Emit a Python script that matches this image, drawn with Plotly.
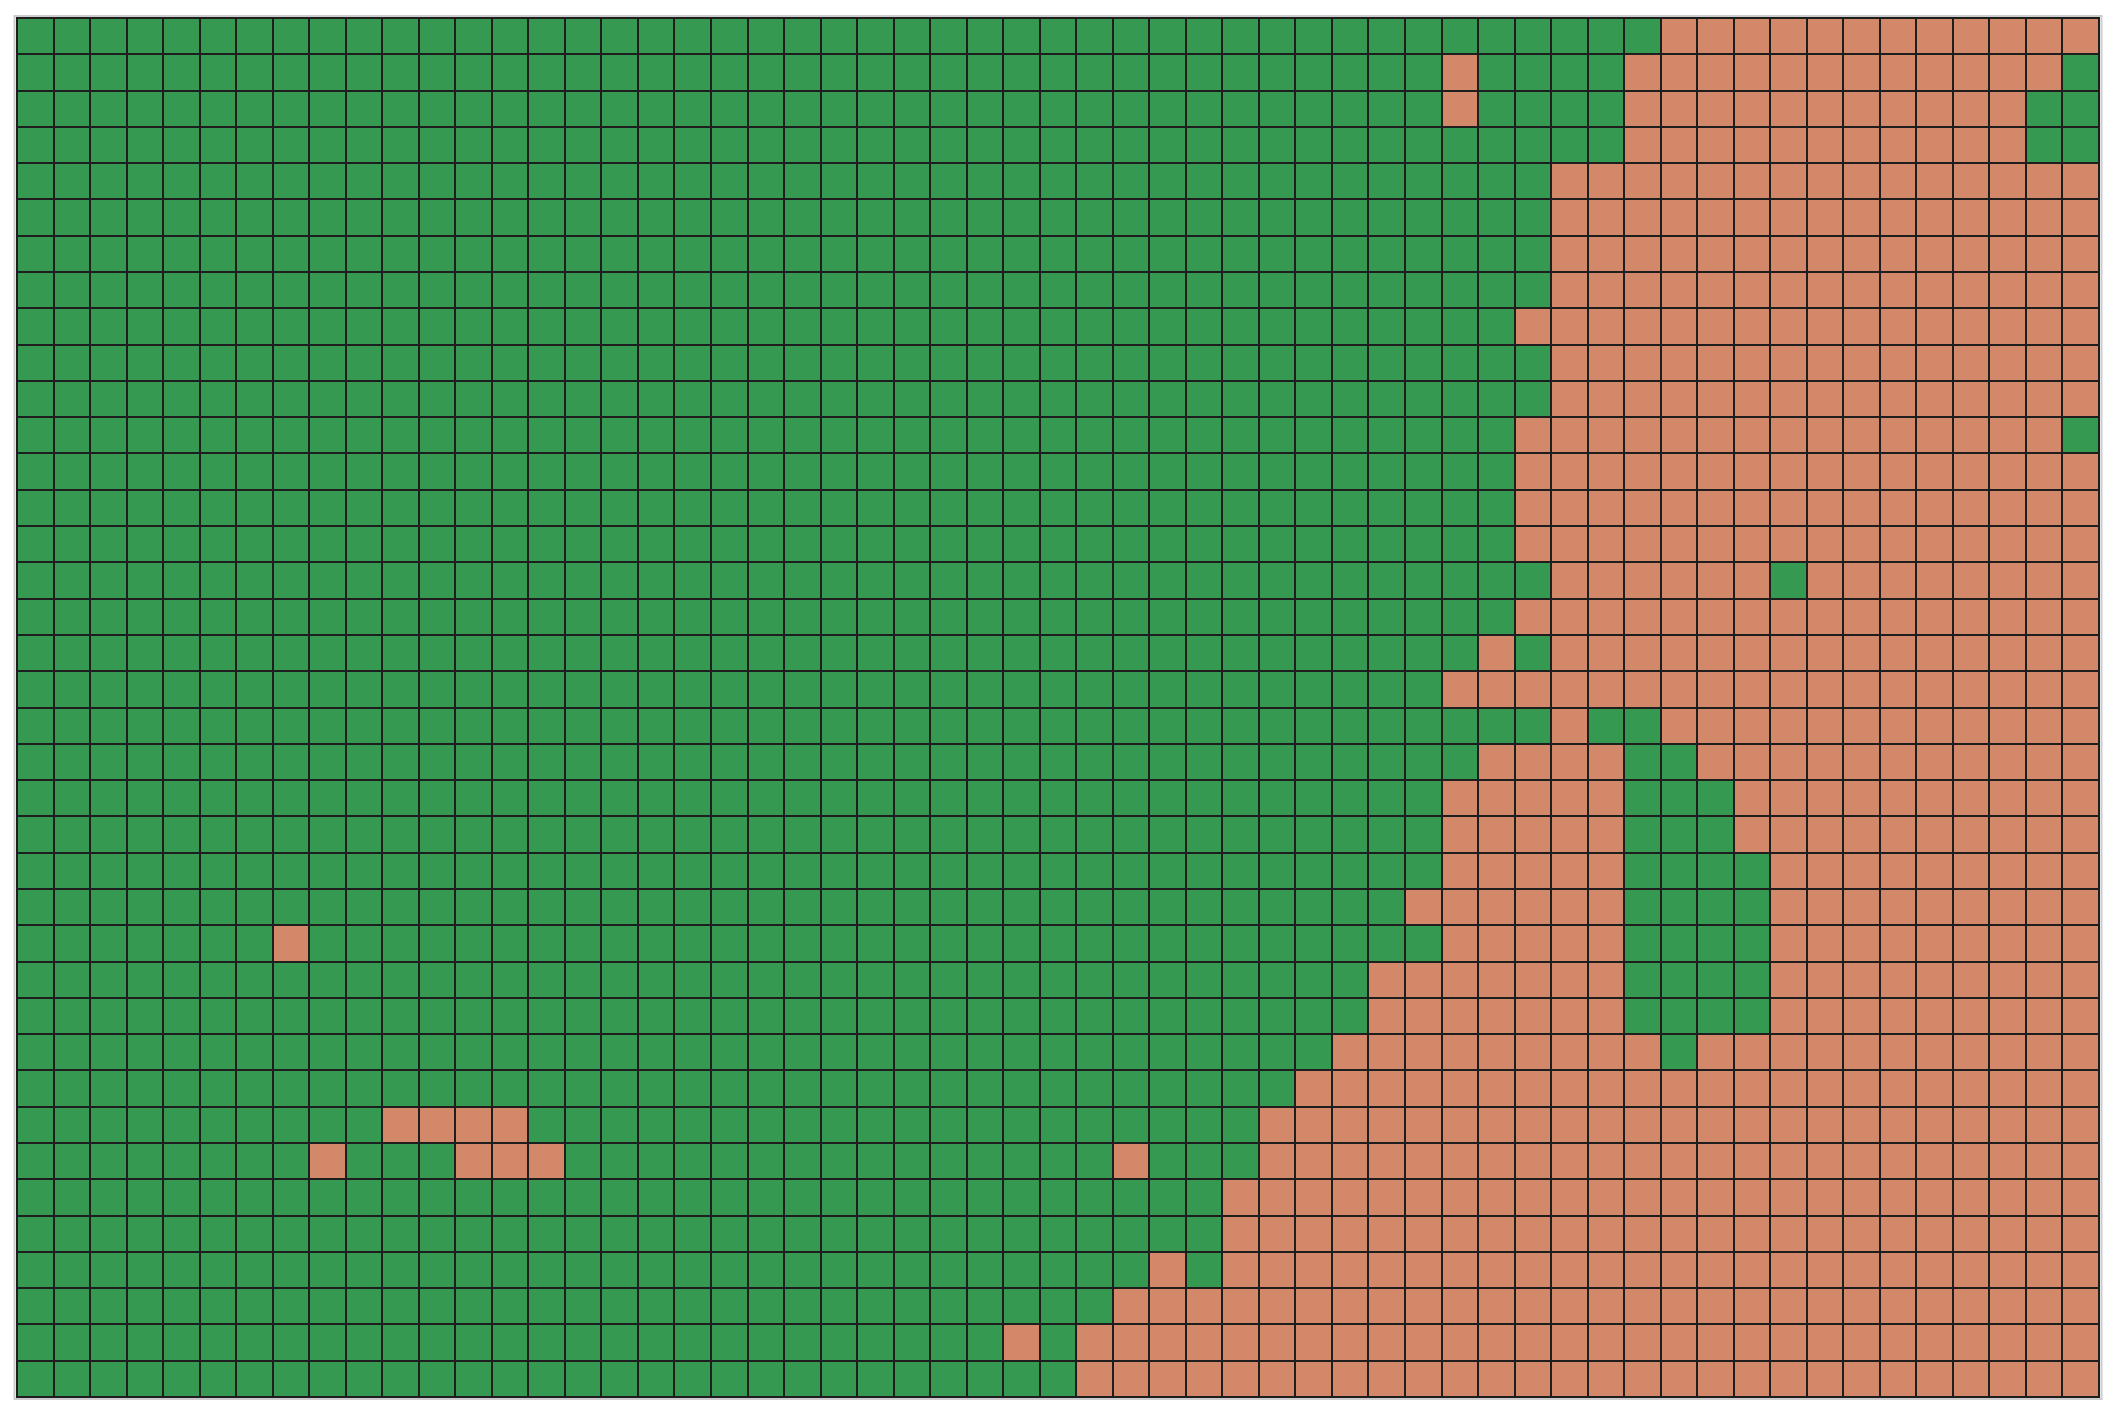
import plotly.graph_objects as go

# Grid: 38 rows x 57 columns. Each row given as run lengths, alternating
# starting with "green" (1) then "orange" (0).
n_cols = 57
row_runs = [
    [45, 12],
    [39, 1, 4, 12, 1],
    [39, 1, 4, 11, 2],
    [44, 11, 2],
    [42, 15],
    [42, 15],
    [42, 15],
    [42, 15],
    [41, 16],
    [42, 15],
    [42, 15],
    [41, 15, 1],
    [41, 16],
    [41, 16],
    [41, 16],
    [42, 6, 1, 8],
    [41, 16],
    [40, 1, 1, 15],
    [39, 18],
    [42, 1, 2, 12],
    [40, 4, 2, 11],
    [39, 5, 3, 10],
    [39, 5, 3, 10],
    [39, 5, 4, 9],
    [38, 6, 4, 9],
    [7, 1, 31, 5, 4, 9],
    [37, 7, 4, 9],
    [37, 7, 4, 9],
    [36, 9, 1, 11],
    [35, 22],
    [10, 4, 20, 23],
    [8, 1, 3, 3, 15, 1, 3, 23],
    [33, 24],
    [33, 24],
    [31, 1, 1, 24],
    [30, 27],
    [27, 1, 1, 28],
    [29, 28],
]

green = "#359952"
orange = "#d4886a"
line_color = "#1e1e1e"

z = []
for runs in row_runs:
    row = []
    val = 1
    for r in runs:
        row.extend([val] * r)
        val = 1 - val
    z.append(row)

n_rows = len(z)

fig = go.Figure(
    go.Heatmap(
        z=z,
        x=list(range(n_cols)),
        y=list(range(n_rows)),
        colorscale=[[0, orange], [0.5, orange], [0.5, green], [1, green]],
        zmin=0,
        zmax=1,
        showscale=False,
        xgap=2,
        ygap=2,
    )
)

fig.update_layout(
    width=2110,
    height=1410,
    margin=dict(l=17, r=11, t=18, b=13),
    paper_bgcolor="white",
    plot_bgcolor=line_color,
    xaxis=dict(range=[-0.5, n_cols - 0.5], showgrid=False, zeroline=False,
               showticklabels=False, ticks="", fixedrange=True),
    yaxis=dict(range=[n_rows - 0.5, -0.5], showgrid=False, zeroline=False,
               showticklabels=False, ticks="", fixedrange=True),
    shapes=[
        dict(type="rect", xref="paper", yref="paper",
             x0=-0.0012, x1=1.0012, y0=-0.0015, y1=1.0015,
             line=dict(color="#cccccc", width=2), layer="above"),
        dict(type="rect", xref="paper", yref="paper",
             x0=0, x1=1, y0=0, y1=1,
             line=dict(color=line_color, width=2), layer="above"),
    ],
)

fig.write_html("out.html")
